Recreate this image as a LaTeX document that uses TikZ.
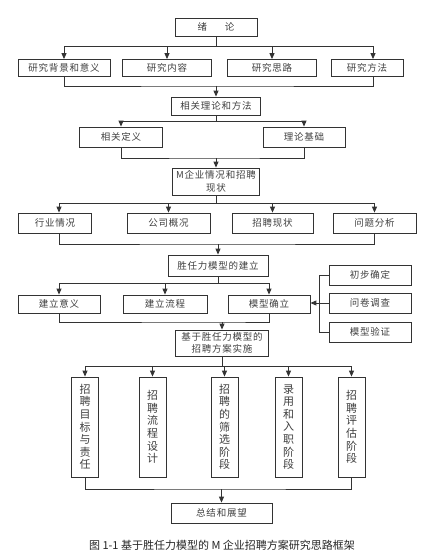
\documentclass[tikz,border=0pt]{standalone}
\usepackage{fontspec}
\newfontfamily\cjk[LetterSpace=8]{Noto Sans CJK SC}
\newfontfamily\cjkv{Noto Sans CJK SC}
\usetikzlibrary{arrows.meta,calc}
\begin{document}
\begin{tikzpicture}[x=1pt,y=-1pt,
  box/.style={draw=black!80, line width=0.8pt, inner sep=0pt, text=black!75,
    font=\cjk\fontsize{9.5}{11.5}\selectfont, align=center},
  vbox/.style={box, minimum width=27pt, minimum height=100pt,
    font=\cjkv\fontsize{11}{12.6}\selectfont},
  ln/.style={draw=black!80, line width=0.9pt},
  arr/.style={ln, -{Triangle[width=5pt,length=6pt]}}]
\useasboundingbox[fill=white] (0,0) rectangle (426,559);

% level 1
\node[box, minimum width=82pt, minimum height=18pt] (xl) at (216,27) {绪\hspace{18pt}论};
\node[box, minimum width=92pt, minimum height=17pt] (a1) at (64,68) {研究背景和意义};
\node[box, minimum width=89pt, minimum height=17pt] (a2) at (167,68) {研究内容};
\node[box, minimum width=89pt, minimum height=17pt] (a3) at (272,68) {研究思路};
\node[box, minimum width=72pt, minimum height=17pt] (a4) at (367,68) {研究方法};
\coordinate (j1) at (xl.south |- 0,46);
\draw[ln] (xl.south) -- (j1);
\draw[arr] (j1) -| (a1.north);
\draw[arr] (j1) -| (a2.north);
\draw[arr] (j1) -| (a3.north);
\draw[arr] (j1) -| ([xshift=6pt]a4.north);

% level 2
\node[box, minimum width=89pt, minimum height=18pt] (lt) at (216,106) {相关理论和方法};
\coordinate (j2) at (lt.north |- 0,86);
\draw[ln] (a1.south) |- (j2) -| ([xshift=6pt]a4.south);
\draw[arr] (j2) -- (lt.north);
\node[box, minimum width=83pt, minimum height=20pt] (b1) at (121,137) {相关定义};
\node[box, minimum width=82pt, minimum height=20pt] (b2) at (304,137) {理论基础};
\coordinate (j3) at (lt.south |- 0,121);
\draw[ln] (lt.south) -- (j3);
\draw[arr] (j3) -| (b1.north);
\draw[arr] (j3) -| (b2.north);

% level 3
\node[box, minimum width=87pt, minimum height=27pt, font=\cjk\fontsize{9.5}{12.5}\selectfont] (m) at (216,181.5) {M企业情况和招聘\\现状};
\coordinate (j4) at (m.north |- 0,158);
\draw[ln] (b1.south) |- (j4) -| (b2.south);
\draw[arr] (j4) -- (m.north);
\node[box, minimum width=73pt, minimum height=20pt] (c1) at (55,223) {行业情况};
\node[box, minimum width=83pt, minimum height=20pt] (c2) at (168.5,223) {公司概况};
\node[box, minimum width=81pt, minimum height=20pt] (c3) at (272.5,223) {招聘现状};
\node[box, minimum width=83pt, minimum height=20pt] (c4) at (374.5,223) {问题分析};
\coordinate (j5) at (m.south |- 0,203);
\draw[ln] (m.south) -- (j5);
\draw[arr] (j5) -| ([xshift=4pt]c1.north);
\draw[arr] (j5) -| (c2.north);
\draw[arr] (j5) -| (c3.north);
\draw[arr] (j5) -| (c4.north);

% level 4
\node[box, minimum width=100pt, minimum height=21pt] (s) at (218,265.5) {胜任力模型的建立};
\coordinate (j6) at (s.north |- 0,244);
\draw[ln] ([xshift=4pt]c1.south) |- (j6) -| (c4.south);
\draw[arr] (j6) -- (s.north);
\node[box, minimum width=82pt, minimum height=18pt] (d1) at (59,304) {建立意义};
\node[box, minimum width=84pt, minimum height=18pt] (d2) at (165,304) {建立流程};
\node[box, minimum width=82pt, minimum height=18pt] (d3) at (269,304) {模型确立};
\coordinate (j7) at (s.south |- 0,283);
\draw[ln] (s.south) -- (j7);
\draw[arr] (j7) -| (d1.north);
\draw[arr] (j7) -| (d2.north);
\draw[arr] (j7) -| (d3.north);

% side boxes
\node[box, minimum width=82pt, minimum height=20pt] (e1) at (370,275) {初步确定};
\node[box, minimum width=82pt, minimum height=20pt] (e2) at (370,303) {问卷调查};
\node[box, minimum width=82pt, minimum height=20pt] (e3) at (370,332) {模型验证};
\coordinate (k1) at (319,275);
\coordinate (k3) at (319,332);
\coordinate (k2) at (319,303);
\draw[ln] (e1.west) -- (k1) -- (k3) -- (e3.west);
\draw[ln] (e2.west) -- (k2);
\draw[arr] (k2) -- (k2 -| d3.east);

% level 5
\node[box, minimum width=93pt, minimum height=26pt, font=\cjk\fontsize{9.5}{12}\selectfont] (jy) at (222,343) {基于胜任力模型的\\招聘方案实施};
\coordinate (j8) at (jy.north |- 0,322);
\draw[ln] (d1.south) |- (j8) -| (d3.south);
\draw[arr] (j8) -- (jy.north);
\node[vbox] (v1) at (85,427) {招\\聘\\目\\标\\与\\责\\任};
\node[vbox] (v2) at (152.5,427) {招\\聘\\流\\程\\设\\计};
\node[vbox] (v3) at (224.5,427) {招\\聘\\的\\筛\\选\\阶\\段};
\node[vbox] (v4) at (288.5,427) {录\\用\\和\\入\\职\\阶\\段};
\node[vbox] (v5) at (351.5,427) {招\\聘\\评\\估\\阶\\段};
\coordinate (j9) at (jy.south |- 0,366);
\draw[ln] (jy.south) -- (j9);
\foreach \v in {v1,v2,v3,v4,v5} \draw[arr] (j9) -| (\v.north);

% conclusion
\node[box, minimum width=101pt, minimum height=20pt] (z) at (221.5,513) {总结和展望};
\coordinate (j10) at (z.north |- 0,489);
\draw[ln] (v1.south) |- (j10) -| (v5.south);
\draw[arr] (j10) -- (z.north);

\node[font=\cjkv\fontsize{11}{13}\selectfont, text=black!85, inner sep=0pt] (cap) at (222,545) {图 1-1\ 基于胜任力模型的 M 企业招聘方案研究思路框架};
\end{tikzpicture}
\end{document}
